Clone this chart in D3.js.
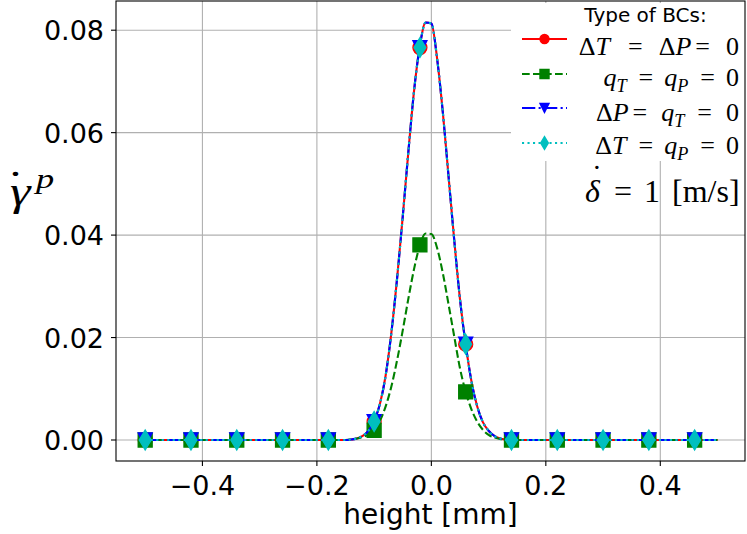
<!DOCTYPE html>
<html>
<head>
<meta charset="utf-8">
<script src="https://cdn.jsdelivr.net/npm/d3@7"></script>
<style>
  body { margin: 0; background: #fff; }
  svg { display: block; }
  text { font-family: "DejaVu Sans", sans-serif; fill: #000; }
</style>
</head>
<body>
<svg id="chart" width="747" height="534"></svg>
<script>
// ---- data ----
var xTicks = [-0.4, -0.2, 0.0, 0.2, 0.4];
var yTicks = [0.00, 0.02, 0.04, 0.06, 0.08];

// sparse points where the markers sit
var markerX     = [-0.50, -0.42, -0.34, -0.26, -0.18, -0.10, -0.02, 0.06, 0.14, 0.22, 0.30, 0.38, 0.46];
var markDTDP    = [0, 0, 0, 0, 0, 0.0036, 0.0766, 0.0187, 0, 0, 0, 0, 0];
var markQTQP    = [0, 0, 0, 0, 0, 0.0019, 0.0381, 0.0094, 0, 0, 0, 0, 0];
var markDPQT    = [0, 0, 0, 0, 0, 0.0036, 0.0766, 0.0187, 0, 0, 0, 0, 0];
var markDTQP    = [0, 0, 0, 0, 0, 0.0036, 0.0766, 0.0187, 0, 0, 0, 0, 0];

// dense points for the curves
var curveX = [-0.50, -0.15, -0.14, -0.13, -0.12, -0.11, -0.10, -0.09, -0.08, -0.07, -0.06, -0.05, -0.04, -0.03, -0.02, -0.01,
              0.00, 0.01, 0.02, 0.03, 0.04, 0.05, 0.06, 0.07, 0.08, 0.09, 0.10, 0.11, 0.12, 0.13, 0.14, 0.50];
var curveDTDP = [0, 0, 0.0001, 0.0003, 0.0008, 0.0018, 0.0037, 0.0070, 0.0125, 0.0208, 0.0314, 0.0436, 0.0565, 0.0684, 0.0770, 0.0815,
                 0.0813, 0.0745, 0.0640, 0.0515, 0.0390, 0.0275, 0.0186, 0.0115, 0.0066, 0.0035, 0.0018, 0.0008, 0.0003, 0.0001, 0, 0];
var curveQTQP = [0, 0, 0.0001, 0.0003, 0.0006, 0.0010, 0.0019, 0.0037, 0.0065, 0.0104, 0.0155, 0.0214, 0.0277, 0.0335, 0.0380, 0.0403,
                 0.0402, 0.0375, 0.0326, 0.0265, 0.0202, 0.0140, 0.0094, 0.0060, 0.0036, 0.0020, 0.0010, 0.0005, 0.0002, 0.0001, 0, 0];
var curveDPQT = [0, 0, 0.0001, 0.0003, 0.0008, 0.0018, 0.0037, 0.0070, 0.0125, 0.0208, 0.0314, 0.0436, 0.0565, 0.0684, 0.0770, 0.0815,
                 0.0813, 0.0745, 0.0640, 0.0515, 0.0390, 0.0275, 0.0186, 0.0115, 0.0066, 0.0035, 0.0018, 0.0008, 0.0003, 0.0001, 0, 0];
var curveDTQP = [0, 0, 0.0001, 0.0003, 0.0008, 0.0018, 0.0037, 0.0070, 0.0125, 0.0208, 0.0314, 0.0436, 0.0565, 0.0684, 0.0770, 0.0815,
                 0.0813, 0.0745, 0.0640, 0.0515, 0.0390, 0.0275, 0.0186, 0.0115, 0.0066, 0.0035, 0.0018, 0.0008, 0.0003, 0.0001, 0, 0];

// legend labels, as math pieces: [text, style, dx]
var labDTDP = [["Δ","r"],["T","i"],["=","r",18],["Δ","r",16],["P","i"],["=","r",4],["0","r",16]];
var labQTQP = [["q","i"],["T","b"],["=","r",12],["q","i",11],["P","b"],["=","r",12],["0","r",11]];
var labDPQT = [["Δ","r"],["P","i"],["=","r",4],["q","i",14],["T","b"],["=","r",13],["0","r",14]];
var labDTQP = [["Δ","r"],["T","i"],["=","r",12],["q","i",11],["P","b"],["=","r",12],["0","r",11]];

var series = [
  {curve: curveDTDP, marks: markDTDP, color: "#ff0000", dash: null,           shape: "circle",   label: labDTDP},
  {curve: curveQTQP, marks: markQTQP, color: "#008000", dash: "7.7,3.3",      shape: "square",   label: labQTQP},
  {curve: curveDPQT, marks: markDPQT, color: "#0000ff", dash: "13.3,3.3,2.1,3.3", shape: "tridown", label: labDPQT},
  {curve: curveDTQP, marks: markDTQP, color: "#00bfbf", dash: "2.1,3.4",      shape: "thindiamond", label: labDTQP}
];

// ---- layout ----
var svg = d3.select("#chart");
var L = 116, R = 745, T = 1, B = 461;
var x = d3.scaleLinear().domain([-0.551, 0.548]).range([L, R]);
var y = d3.scaleLinear().domain([-0.0041, 0.0857]).range([B, T]);
var gridColor = "#b0b0b0";
var serif = "'Liberation Serif', 'Times New Roman', serif";

svg.append("defs").append("clipPath").attr("id", "plotclip")
  .append("rect").attr("x", L).attr("y", T).attr("width", R - L).attr("height", B - T);

// grid
var grid = svg.append("g");
grid.selectAll("line.gx").data(xTicks).enter().append("line")
  .attr("x1", function(d){ return x(d); }).attr("x2", function(d){ return x(d); })
  .attr("y1", T).attr("y2", B)
  .attr("stroke", gridColor).attr("stroke-width", 1.1);
grid.selectAll("line.gy").data(yTicks).enter().append("line")
  .attr("y1", function(d){ return y(d); }).attr("y2", function(d){ return y(d); })
  .attr("x1", L).attr("x2", R)
  .attr("stroke", gridColor).attr("stroke-width", 1.1);

// marker shapes (size s = nominal marker size in px)
function shapePath(kind, s) {
  var h = s / 2, p = d3.path();
  if (kind === "circle") { p.arc(0, 0, h, 0, 2 * Math.PI); }
  else if (kind === "square") { p.rect(-h, -h, s, s); }
  else if (kind === "tridown") { p.moveTo(0, h); p.lineTo(-h, -h); p.lineTo(h, -h); p.closePath(); }
  else { var d = s * 0.707; p.moveTo(0, -d); p.lineTo(d * 0.6, 0); p.lineTo(0, d); p.lineTo(-d * 0.6, 0); p.closePath(); }
  return p.toString();
}

var plot = svg.append("g").attr("clip-path", "url(#plotclip)");
var line = d3.line()
  .x(function(d){ return x(d[0]); })
  .y(function(d){ return y(d[1]); })
  .curve(d3.curveMonotoneX);

series.forEach(function(s) {
  plot.append("path")
    .datum(d3.zip(curveX, s.curve))
    .attr("d", line)
    .attr("fill", "none")
    .attr("stroke", s.color)
    .attr("stroke-width", 2.1)
    .attr("stroke-dasharray", s.dash);
  plot.selectAll(null).data(d3.zip(markerX, s.marks)).enter().append("path")
    .attr("transform", function(d){ return "translate(" + x(d[0]) + "," + y(d[1]) + ")"; })
    .attr("d", shapePath(s.shape, 13.9))
    .attr("fill", s.color).attr("stroke", s.color).attr("stroke-width", 1.4);
});

// math text helper
function mathText(g, px, py, size, parts, anchor) {
  var t = g.append("text").attr("x", px).attr("y", py)
    .attr("text-anchor", anchor || "start")
    .style("font-family", serif).style("font-size", size + "px");
  var cur = 0;
  parts.forEach(function(p) {
    var off = 0, fs = size, st = "normal";
    if (p[1] === "i") st = "italic";
    if (p[1] === "b") { st = "italic"; fs = size * 0.7; off = size * 0.22; }
    if (p[1] === "p") { st = "italic"; fs = size * 0.7; off = -size * 0.4; }
    var sp = t.append("tspan").text(p[0])
      .style("font-style", st).style("font-size", fs + "px");
    if (off !== cur) { sp.attr("dy", off - cur); cur = off; }
    if (p[2]) sp.attr("dx", p[2]);
  });
  return t;
}

// legend (white box, no border)
var leg = svg.append("g");
leg.append("rect").attr("x", 511).attr("y", 3).attr("width", 236).attr("height", 158).attr("fill", "#fff");
leg.append("text").attr("x", 645.5).attr("y", 22).attr("text-anchor", "middle")
  .style("font-size", "20px").text("Type of BCs:");
var rowY = [39, 74, 108, 143];
var textY = [54.5, 86, 121, 154];
series.forEach(function(s, i) {
  leg.append("line").attr("x1", 522).attr("x2", 567).attr("y1", rowY[i]).attr("y2", rowY[i])
    .attr("stroke", s.color).attr("stroke-width", 2.1).attr("stroke-dasharray", s.dash);
  leg.append("path").attr("transform", "translate(544.5," + rowY[i] + ")")
    .attr("d", shapePath(s.shape, 9))
    .attr("fill", s.color).attr("stroke", s.color).attr("stroke-width", 1.4);
  mathText(leg, 739, textY[i], 26, s.label, "end");
});

// annotation: delta-dot = 1 [m/s]  (dot accent placed as its own tspan)
var ann = svg.append("text").style("font-family", serif).style("font-size", "32px");
ann.append("tspan").attr("x", 585).attr("y", 202).style("font-style", "italic").text("δ");
ann.append("tspan").attr("x", 591.5).attr("y", 187).text("˙");
ann.append("tspan").attr("x", 614).attr("y", 202).text("=");
ann.append("tspan").attr("x", 644).attr("y", 202).text("1");
ann.append("tspan").attr("x", 672).attr("y", 202).text("[m/s]");

// spines
svg.append("rect").attr("x", L).attr("y", T).attr("width", R - L).attr("height", B - T)
  .attr("fill", "none").attr("stroke", "#000").attr("stroke-width", 1.1);

// ticks and tick labels
var fmtX = function(d){ return d3.format(".1f")(d).replace("-", "\u2212"); };
var fmtY = d3.format(".2f");
var xt = svg.append("g");
xTicks.forEach(function(d) {
  xt.append("line").attr("x1", x(d)).attr("x2", x(d)).attr("y1", B).attr("y2", B + 5)
    .attr("stroke", "#000").attr("stroke-width", 1.1);
  xt.append("text").attr("x", x(d)).attr("y", 495).attr("text-anchor", "middle")
    .style("font-size", "27px").text(fmtX(d));
});
var yt = svg.append("g");
yTicks.forEach(function(d) {
  yt.append("line").attr("x1", L - 5).attr("x2", L).attr("y1", y(d)).attr("y2", y(d))
    .attr("stroke", "#000").attr("stroke-width", 1.1);
  yt.append("text").attr("x", 104).attr("y", y(d) + 10).attr("text-anchor", "end")
    .style("font-size", "27px").text(fmtY(d));
});

// axis labels
svg.append("text").attr("x", (L + R) / 2).attr("y", 524).attr("text-anchor", "middle")
  .style("font-size", "28px").text("height [mm]");
var yl = svg.append("text").attr("transform", "translate(10,205) scale(1.3,1)")
  .style("font-family", serif).style("font-size", "40px");
yl.append("tspan").attr("x", 0).attr("y", 0).style("font-style", "italic").text("γ");
yl.append("tspan").attr("x", -2.6).attr("y", -7).text("˙");
yl.append("tspan").attr("x", 20).attr("y", -17).style("font-style", "italic").style("font-size", "28px").text("p");
</script>
</body>
</html>
